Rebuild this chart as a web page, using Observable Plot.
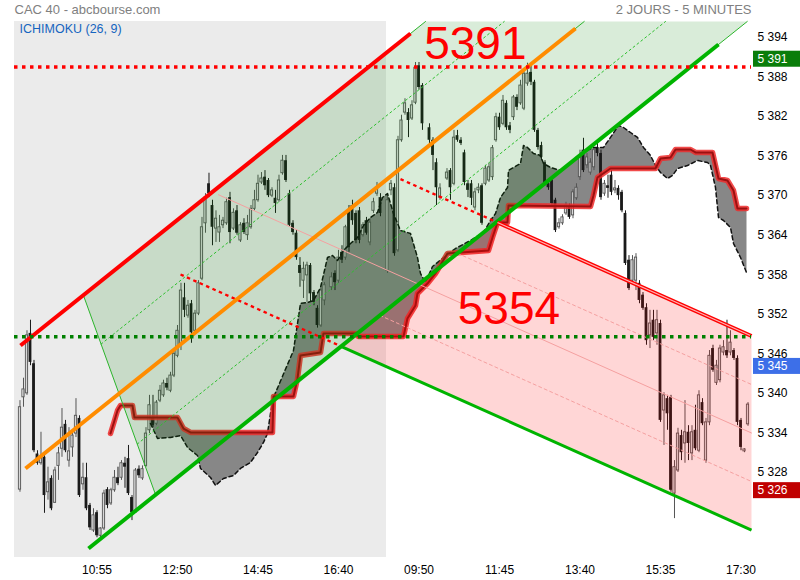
<!DOCTYPE html>
<html><head><meta charset="utf-8">
<script src="https://cdn.jsdelivr.net/npm/d3@7"></script>
<script src="https://cdn.jsdelivr.net/npm/@observablehq/plot@0.6"></script>
<style>
html,body{margin:0;padding:0;background:#fff;overflow:hidden;font-family:"Liberation Sans",Arial,sans-serif}
#chart svg{display:block}
</style></head><body>
<div id="chart"></div>
<script>
// ---- titles ----
const titleLeft = "CAC 40 - abcbourse.com";
const titleRight = "2 JOURS - 5 MINUTES";
const indicatorName = "ICHIMOKU (26, 9)";

// ---- axes ----
const xTicks = [23,46,69,92,115,138,161,184,207];
const xTickLabels = ["10:55","12:50","14:45","16:40","09:50","11:45","13:40","15:35","17:30"];
const yTicks = [5328,5334,5340,5346,5352,5358,5364,5370,5376,5382,5388,5394];
const yTickLabels = ["5 328","5 334","5 340","5 346","5 352","5 358","5 364","5 370","5 376","5 382","5 388","5 394"];
const xDomain = [-0.571, 210];
const yDomain = [5315.10, 5396.42];
const day1Span = [-0.571, 105.7];

// ---- candles [bar index, open, high, low, close] ----
const day1Bars = [
[1,5325.4,5338.9,5325.0,5337.9],[2,5339.4,5342.3,5337.9,5340.6],[3,5340.0,5349.5,5339.7,5348.8],[4,5349.1,5351.1,5344.2,5344.7],
[5,5344.5,5345.0,5331.0,5331.3],[6,5330.8,5331.3,5329.1,5329.4],[7,5329.4,5334.1,5329.1,5330.4],[8,5330.3,5330.6,5321.8,5324.5],
[9,5325.0,5328.8,5323.8,5326.5],[10,5327.1,5327.5,5322.2,5322.5],[11,5323.4,5328.8,5323.3,5328.3],[12,5329.0,5331.8,5326.8,5330.9],
[13,5331.6,5337.7,5330.3,5334.8],[14,5335.3,5335.9,5331.0,5331.3],[15,5329.8,5334.8,5328.8,5331.2],[16,5331.8,5334.4,5330.3,5333.6],
[17,5333.9,5339.2,5333.3,5336.6],[18,5336.2,5336.6,5324.2,5324.5],[19,5326.2,5329.4,5325.3,5327.2],[20,5327.2,5329.4,5322.2,5322.5],
[21,5323.0,5323.3,5319.2,5319.6],[22,5319.2,5322.5,5318.9,5321.5],[23,5321.9,5322.2,5318.1,5318.4],[24,5318.4,5319.6,5317.9,5319.5],
[25,5319.5,5325.3,5319.2,5324.8],[26,5325.4,5325.7,5322.5,5323.0],[27,5323.3,5325.6,5323.0,5325.3],[28,5325.3,5328.3,5325.0,5327.2],
[29,5327.2,5328.8,5326.0,5326.3],[30,5327.2,5329.8,5326.8,5329.4],[31,5329.4,5330.3,5325.6,5328.8],[32,5330.1,5332.1,5324.5,5324.8],
[33,5324.2,5324.5,5320.7,5321.9],[34,5321.9,5328.6,5321.8,5328.3],[35,5328.5,5329.0,5327.1,5327.5],[36,5327.1,5329.0,5326.8,5328.5],
[37,5329.0,5334.8,5328.8,5333.9],[38,5334.4,5339.7,5333.9,5338.2],[39,5336.2,5339.7,5334.8,5335.1],[40,5335.4,5338.9,5335.1,5338.6],
[41,5338.9,5341.2,5338.6,5340.4],[42,5339.7,5342.0,5339.4,5341.5],[43,5341.5,5342.3,5340.4,5340.8],[44,5340.4,5343.2,5340.1,5342.7],
[45,5342.7,5346.5,5342.4,5346.0],[46,5345.7,5350.3,5345.4,5349.5],[47,5347.3,5356.7,5346.5,5355.6],[48,5354.5,5356.7,5351.5,5352.6],
[49,5351.8,5354.1,5351.4,5353.3],[50,5353.6,5354.1,5347.6,5349.2],[51,5349.5,5352.6,5349.1,5352.1],[52,5352.1,5357.1,5351.8,5356.7],
[53,5357.4,5366.7,5357.1,5365.2],[54,5365.8,5370.3,5364.3,5369.7],[55,5371.8,5373.4,5369.7,5370.3],[56,5368.5,5369.3,5362.4,5365.2],
[57,5365.0,5367.7,5362.9,5366.5],[58,5364.4,5367.0,5362.9,5365.2],[59,5365.5,5366.7,5365.0,5366.2],[60,5365.8,5369.6,5365.5,5369.0],
[61,5369.7,5370.5,5362.7,5364.4],[62,5365.0,5368.0,5364.7,5367.4],[63,5367.7,5368.5,5364.0,5364.3],[64,5363.2,5365.9,5362.9,5365.5],
[65,5365.8,5366.5,5364.1,5364.4],[66,5364.0,5367.0,5363.2,5365.8],[67,5365.2,5368.5,5364.9,5368.0],[68,5368.0,5370.8,5367.7,5369.3],
[69,5369.3,5373.1,5369.0,5371.8],[70,5372.0,5373.5,5371.7,5372.6],[71,5372.8,5373.8,5370.8,5371.5],[72,5372.3,5372.6,5369.7,5370.0],
[73,5370.0,5371.2,5369.7,5370.8],[74,5369.6,5370.8,5367.3,5368.8],[75,5369.3,5373.1,5369.0,5372.3],[76,5373.4,5376.1,5373.1,5375.3],
[77,5375.3,5376.1,5372.0,5372.3],[78,5370.3,5370.8,5365.2,5365.5],[79,5365.8,5366.2,5364.0,5364.4],[80,5364.3,5364.7,5360.2,5360.6],
[81,5359.4,5360.6,5356.1,5358.2],[82,5357.1,5359.9,5354.4,5358.9],[83,5357.9,5359.9,5353.8,5359.4],[84,5359.4,5359.7,5353.8,5355.1],
[85,5355.3,5355.6,5353.3,5353.8],[86,5352.9,5353.3,5349.9,5350.3],[87,5350.3,5355.9,5350.0,5355.6],[88,5354.1,5356.8,5353.3,5356.4],
[90,5356.1,5358.3,5355.6,5357.6],[91,5358.2,5358.6,5355.6,5356.8],[92,5357.1,5361.7,5356.7,5360.6],[93,5361.4,5362.4,5359.7,5360.2],
[94,5360.6,5365.5,5360.2,5365.2],[95,5367.7,5368.5,5361.4,5362.1],[96,5368.5,5369.3,5365.5,5366.2],[97,5367.3,5367.7,5362.7,5363.2],
[98,5367.7,5368.2,5362.7,5363.2],[99,5364.0,5365.9,5363.7,5365.5],[100,5366.2,5366.7,5364.0,5364.3],[101,5362.9,5366.5,5362.4,5365.9],
[102,5367.7,5369.6,5367.3,5369.0],[103,5370.3,5372.0,5369.9,5371.2],[104,5369.7,5370.3,5366.8,5367.3]
];
const day2Bars = [
[106,5358.6,5370.3,5358.2,5369.3],[107,5370.8,5372.3,5370.0,5371.8],[108,5371.2,5371.8,5360.8,5361.2],[109,5361.7,5379.0,5361.4,5378.4],
[110,5378.4,5382.2,5378.1,5381.4],[111,5382.6,5384.7,5382.2,5384.0],[112,5382.6,5383.2,5378.8,5381.4],[113,5381.7,5384.4,5381.4,5383.7],
[114,5384.1,5390.2,5383.8,5389.4],[115,5389.7,5390.2,5386.0,5386.4],[116,5386.7,5387.0,5379.9,5380.9],[118,5380.3,5380.9,5377.9,5378.4],
[119,5378.4,5378.8,5373.8,5376.1],[120,5375.0,5375.6,5368.5,5371.2],[121,5369.7,5371.8,5369.3,5371.1],[123,5372.6,5374.1,5372.3,5373.5],
[124,5373.8,5374.1,5369.3,5371.2],[125,5371.8,5379.9,5371.5,5378.8],[126,5379.1,5379.9,5378.1,5378.4],[127,5378.4,5378.8,5377.6,5377.9],
[128,5376.5,5376.9,5371.5,5372.0],[129,5371.8,5372.3,5369.7,5370.8],[130,5371.8,5372.3,5368.5,5369.6],[131,5368.2,5371.1,5367.7,5370.5],
[132,5370.8,5371.8,5370.3,5371.2],[133,5371.5,5371.8,5365.5,5365.8],[134,5371.8,5374.6,5371.5,5374.1],[135,5372.3,5374.9,5372.0,5374.3],
[136,5372.8,5377.6,5372.3,5377.2],[137,5378.4,5382.5,5378.1,5381.9],[138,5381.9,5382.5,5379.9,5380.3],[139,5380.9,5385.2,5380.6,5384.4],
[140,5384.0,5384.4,5379.9,5380.3],[141,5380.6,5381.1,5379.4,5379.9],[142,5381.9,5385.2,5381.4,5384.9],[143,5384.9,5385.3,5382.9,5383.4],
[144,5384.0,5387.5,5383.7,5386.7],[145,5383.2,5389.0,5382.9,5388.5],[146,5387.0,5390.1,5386.6,5388.5],[147,5388.7,5389.6,5386.7,5387.2],
[148,5387.2,5387.5,5379.6,5379.9],[149,5379.9,5380.2,5376.9,5377.3],[150,5377.6,5378.1,5375.3,5375.8],[151,5375.0,5375.3,5371.5,5371.8],
[152,5371.8,5372.3,5370.8,5371.2],[153,5372.3,5372.6,5368.4,5368.8],[154,5369.3,5369.6,5364.4,5364.7],[155,5365.2,5366.5,5364.9,5365.8],
[156,5365.8,5367.1,5365.5,5366.7],[157,5367.3,5369.0,5367.0,5368.5],[158,5368.2,5368.7,5366.4,5366.7],[159,5367.0,5370.9,5366.5,5370.5],
[160,5369.6,5371.8,5369.3,5371.2],[161,5372.8,5376.9,5372.3,5375.8],[162,5376.9,5378.7,5373.5,5373.8],[163,5374.6,5376.4,5374.1,5375.8],
[164,5373.5,5375.6,5373.1,5375.0],[165,5374.3,5377.3,5373.8,5376.9],[166,5377.3,5377.9,5375.9,5376.4],[167,5376.4,5376.9,5369.3,5369.7],
[168,5370.3,5372.3,5369.9,5371.8],[169,5371.5,5373.1,5369.6,5371.1],[170,5373.1,5373.8,5370.0,5370.5],[171,5370.8,5372.3,5370.3,5371.1],
[172,5371.1,5371.5,5369.3,5370.0],[173,5370.5,5370.8,5367.4,5367.7],[174,5367.3,5367.7,5359.4,5359.7],[175,5360.2,5360.9,5355.6,5355.9],
[176,5357.1,5360.9,5356.4,5360.2],[177,5357.1,5361.2,5355.6,5360.6],[178,5356.7,5357.1,5353.6,5354.1],[179,5354.9,5355.3,5352.6,5352.9],
[180,5353.0,5353.6,5347.3,5348.0],[181,5348.8,5352.6,5346.8,5350.6],[182,5351.1,5352.6,5348.0,5348.5],[183,5349.1,5352.6,5347.3,5351.1],
[184,5350.6,5351.1,5335.6,5335.9],[185,5337.4,5340.1,5332.1,5339.7],[186,5339.2,5339.7,5334.4,5336.9],[187,5339.4,5339.7,5325.0,5325.3],
[188,5324.8,5329.8,5321.0,5328.8],[189,5328.3,5334.7,5328.0,5333.9],[190,5333.6,5334.4,5329.8,5331.0],[191,5332.4,5338.9,5329.4,5334.1],
[192,5334.1,5335.1,5329.8,5332.4],[193,5330.9,5335.1,5329.8,5334.1],[194,5334.4,5338.2,5331.3,5331.6],[195,5331.3,5340.4,5331.0,5339.7],
[196,5338.6,5339.2,5335.1,5335.4],[197,5329.8,5336.2,5329.4,5335.6],[198,5335.6,5346.5,5335.1,5345.7],[199,5346.8,5347.3,5343.2,5343.5],
[200,5341.6,5345.0,5341.2,5344.2],[201,5342.0,5347.3,5341.6,5346.8],[202,5346.2,5348.0,5345.7,5347.0],[203,5346.5,5351.1,5345.3,5345.7],
[204,5346.2,5349.5,5345.7,5347.7],[205,5346.5,5346.8,5345.0,5345.3],[206,5345.3,5345.7,5335.1,5335.6],[207,5335.9,5336.2,5331.3,5331.8],
[208,5331.2,5331.6,5331.0,5331.5],[209,5335.3,5338.6,5335.0,5338.3]
];

// ---- Ichimoku cloud edges [bar index, price] ----
const kumoB = [[26.86,5333.92],[28,5335.89],[28.86,5337.40],[29.71,5338.16],[33.14,5338.16],[33.71,5336.34],[46,5336.34],[47.71,5334.67],[49.71,5334.07],[73.14,5334.07],[73.43,5339.53],[79.14,5339.53],[80.29,5342.26],[81.14,5345.75],[86.86,5346.20],[87.71,5349.09],[96.86,5349.09],[97.71,5348.63],[110.57,5348.63],[111.71,5351.36],[114,5353.33],[114.57,5355.16],[117.43,5356.67],[119.71,5358.19],[123.14,5361.22],[134.86,5361.68],[136,5363.65],[137.43,5365.93],[140.29,5365.93],[140.57,5368.51],[164,5368.36],[164.86,5370.02],[166,5372.75],[169.71,5374.12],[182.57,5374.12],[184,5375.64],[186.86,5375.79],[188.29,5377.0],[192.57,5377.0],[194,5376.55],[198.86,5376.55],[200.57,5372.60],[203.14,5372.30],[204.86,5370.78],[206,5368.05],[208.57,5368.05]];
const kumoA = [[38.29,5335.43],[40.29,5333.16],[44,5333.31],[46.86,5333.61],[48.86,5331.79],[51.71,5330.58],[52.57,5328.61],[55.43,5327.24],[56.86,5326.03],[59.14,5327.09],[62,5327.54],[64,5328.61],[66.86,5329.52],[68.86,5331.03],[70.57,5332.55],[71.71,5333.92],[72.57,5336.95],[73.43,5339.38],[79.14,5346.51],[81.14,5353.64],[83.14,5353.79],[84.86,5354.09],[86.86,5356.06],[88.86,5360.62],[90.29,5360.92],[91.71,5360.16],[93.43,5361.68],[95.43,5362.74],[97.43,5363.65],[99.14,5365.47],[101.14,5366.68],[103.14,5367.45],[104.57,5369.72],[106,5370.33],[106.86,5368.81],[107.71,5367.29],[109.71,5364.71],[112.57,5364.26],[114.57,5360.62],[115.43,5358.19],[116.86,5356.82],[118.86,5359.25],[121.71,5360.47],[125.43,5361.98],[129.71,5363.20],[133.43,5364.41],[135.43,5366.23],[136.86,5367.29],[138.29,5369.72],[140.29,5371.24],[140.57,5373.82],[142,5374.27],[144,5374.88],[144.86,5377.61],[146,5377.31],[147.71,5376.40],[149.71,5376.09],[150.57,5374.88],[152.57,5374.27],[155.43,5373.82],[158.29,5375.03],[161.14,5376.40],[164.86,5377.31],[167.71,5377.31],[169.71,5378.83],[172,5380.65],[173.43,5380.34],[175.43,5379.58],[177.43,5378.83],[179.14,5377.31],[181.14,5376.09],[182.57,5374.57],[184,5373.51],[186,5372.60],[187.43,5373.06],[188.86,5374.12],[191.71,5374.57],[194.57,5375.33],[197.43,5375.03],[198.29,5374.57],[199.71,5371.24],[200.57,5366.68],[202,5366.23],[204,5365.17],[204.86,5362.74],[206.86,5360.62],[208.57,5358.34]];

// ---- rising channel [bar index, price] ----
const bullZone = [[19.14,5354.85],[116.86,5396.42],[208.79,5396.42],[39.71,5324.66]];
const bullTopRail = [[1.14,5347.27],[112.57,5394.60]];
const bullMidRail = [[2.57,5328.61],[159.71,5395.36]];
const bullLowRail = [[20.57,5316.47],[200.57,5392.93]];
const bullThinRails = [[[19.14,5354.85],[116.86,5396.42]],[[29.29,5339.98],[162.21,5396.42]],[[39.71,5324.66],[208.79,5396.42]],[[19.14,5354.85],[39.71,5324.66]]];
const bullDotRails = [[[24.17,5347.48],[139.36,5396.42]],[[34.51,5332.31],[185.43,5396.42]]];

// ---- falling channel ----
const bearZone = [[137.43,5365.93],[210,5348.71],[210,5319.27],[92.86,5347.11]];
const bearTopRail = [[137.43,5365.93],[210,5348.71]];
const bearLowRail = [[92.86,5347.11],[210,5319.27]];
const bearMidRail = [[57.71,5370.13],[210,5333.99]];
const bearQuarterRails = [[[126,5361.25],[210,5341.35]],[[103.83,5351.83],[210,5326.63]]];
const bearExtensions = [[[109.71,5372.51],[137.43,5365.93]],[[46.86,5358.04],[92.86,5347.11]]];

// ---- levels and tags ----
const levelValues = [5389.5, 5348.6];
const levelLabels = ["5391", "5354"];
const levelLabelAt = [[131.1, 5393.0], [140.7, 5352.7]];
const tagValues = [5391, 5345, 5326];
const tagLabels = ["5 391", "5 345", "5 326"];
const tagColors = ["#0a7d0a", "#3d6fe8", "#c00000"];
const tagShift = [2, 6, 5];

// ---- build ----
const X = d => d[0], Y = d => d[1];
function valueAt(arr, t) {
  for (let k = 0; k < arr.length - 1; k++) {
    const [i0, v0] = arr[k], [i1, v1] = arr[k + 1];
    if (t >= i0 && t <= i1) return i1 === i0 ? v0 : v0 + (v1 - v0) * (t - i0) / (i1 - i0);
  }
  return arr[arr.length - 1][1];
}
const a0 = kumoA[0][0], aN = kumoA[kumoA.length - 1][0];
const cloud = [...kumoA, ...kumoB.filter(d => d[0] > a0 && d[0] <= aN).reverse(), [a0, valueAt(kumoB, a0)]];

const bars = [...day1Bars, ...day2Bars].map(([i, o, h, l, c]) => ({i, o, h, l, c}));
const up = bars.filter(b => b.c >= b.o), dn = bars.filter(b => b.c < b.o);
const segs = list => list.flatMap((pts, k) => pts.map(p => ({i: p[0], v: p[1], k})));

const marks = [
  Plot.rect([day1Span], {x1: X, x2: Y, y1: yDomain[0], y2: yDomain[1], fill: "#ebebeb"}),
  Plot.line(cloud, {x: X, y: Y, fill: "#878787", stroke: "none"}),
  Plot.ruleX(dn, {x: "i", y1: "l", y2: "h", stroke: "#1a1a1a", strokeWidth: 1}),
  Plot.ruleX(up, {x: "i", y1: "l", y2: "h", stroke: "#555", strokeWidth: 1}),
  Plot.rect(dn, {x1: b => b.i - 0.4, x2: b => b.i + 0.4, y1: "o", y2: "c", fill: "#1a1a1a"}),
  Plot.rect(up, {x1: b => b.i - 0.32, x2: b => b.i + 0.32, y1: "o", y2: "c", fill: "#ffffff", fillOpacity: 0.6, stroke: "#555", strokeWidth: 0.9}),
  Plot.line(kumoA, {x: X, y: Y, stroke: "#111", strokeWidth: 1.5, strokeDasharray: "4,3"}),
  Plot.line(kumoB, {x: X, y: Y, stroke: "#ee2a2a", strokeWidth: 5.5, strokeOpacity: 0.85, strokeLinejoin: "round"}),
  Plot.line(kumoB, {x: X, y: Y, stroke: "#9b1010", strokeWidth: 2}),
  Plot.line(bullZone, {x: X, y: Y, fill: "rgb(0,128,0)", fillOpacity: 0.15, stroke: "none"}),
  Plot.line(bearZone, {x: X, y: Y, fill: "rgb(255,0,0)", fillOpacity: 0.16, stroke: "none"}),
  Plot.line(bearMidRail, {x: X, y: Y, stroke: "#f5a0a0", strokeWidth: 1}),
  Plot.line(segs(bearQuarterRails), {x: "i", y: "v", z: "k", stroke: "#f5a0a0", strokeWidth: 1, strokeDasharray: "3,3"}),
  Plot.line(segs(bearExtensions), {x: "i", y: "v", z: "k", stroke: "#ff0000", strokeWidth: 2.3, strokeDasharray: "3.5,3.5", strokeLinecap: "butt"}),
  Plot.line(segs(bullDotRails), {x: "i", y: "v", z: "k", stroke: "#2fbf2f", strokeWidth: 1, strokeDasharray: "2,3"}),
  Plot.line(segs(bullThinRails), {x: "i", y: "v", z: "k", stroke: "#2cb52c", strokeWidth: 1}),
  Plot.line(bullTopRail, {x: X, y: Y, stroke: "#ff0000", strokeWidth: 4, strokeLinecap: "butt"}),
  Plot.line(bullMidRail, {x: X, y: Y, stroke: "#ff8c00", strokeWidth: 4, strokeLinecap: "butt"}),
  Plot.line(bullLowRail, {x: X, y: Y, stroke: "#00b400", strokeWidth: 4, strokeLinecap: "butt"}),
  Plot.line(bearLowRail, {x: X, y: Y, stroke: "#00b400", strokeWidth: 3, strokeLinecap: "butt"}),
  Plot.line(bearTopRail, {x: X, y: Y, stroke: "#ff0000", strokeWidth: 4, strokeLinecap: "butt"}),
  Plot.line(bearTopRail, {x: X, y: Y, stroke: "#ffb3b3", strokeWidth: 1.2, strokeLinecap: "butt"}),
  Plot.ruleY([levelValues[0]], {stroke: "#ff0000", strokeWidth: 3.5, strokeDasharray: "3.5,4.5"}),
  Plot.ruleY([levelValues[1]], {stroke: "#008000", strokeWidth: 3.5, strokeDasharray: "3.5,4.5"}),
  Plot.text(levelLabels.map((t, k) => ({t, i: levelLabelAt[k][0], v: levelLabelAt[k][1]})), {x: "i", y: "v", text: "t", fontSize: 46, fill: "#ff0000", lineAnchor: "middle"}),
  ...tagValues.map((v, k) => Plot.rect([v], {x1: 210.57, x2: 224, y1: d => d - 1.214, y2: d => d + 1.214, fill: tagColors[k], dy: tagShift[k]})),
  ...tagValues.map((v, k) => Plot.text([v], {x: 211.71, y: d => d, text: () => tagLabels[k], fill: "#ffffff", textAnchor: "start", fontSize: 12, dy: tagShift[k]})),
  Plot.text([indicatorName], {frameAnchor: "top-left", text: d => d, textAnchor: "start", lineAnchor: "top", dx: 5, dy: 3, fill: "#1565c0", fontSize: 12.5}),
  Plot.text([titleLeft], {frameAnchor: "top-left", text: d => d, textAnchor: "start", lineAnchor: "middle", dy: -12, fill: "#808080", fontSize: 13}),
  Plot.text([titleRight], {frameAnchor: "top-right", text: d => d, textAnchor: "end", lineAnchor: "middle", dy: -12, fill: "#808080", fontSize: 13})
];

const chart = Plot.plot({
  width: 800, height: 580,
  marginLeft: 14, marginRight: 49, marginTop: 21, marginBottom: 23,
  style: {fontFamily: "'Liberation Sans', Arial, sans-serif", fontSize: "12px", background: "#ffffff", color: "#000"},
  x: {domain: xDomain, ticks: xTicks, tickFormat: d => xTickLabels[xTicks.indexOf(d)], tickSize: 0, tickPadding: 8, label: null},
  y: {domain: yDomain, axis: "right", ticks: yTicks, tickFormat: d => yTickLabels[yTicks.indexOf(d)], tickSize: 0, tickPadding: 6, label: null},
  marks
});
document.getElementById("chart").appendChild(chart);
</script>
</body></html>
